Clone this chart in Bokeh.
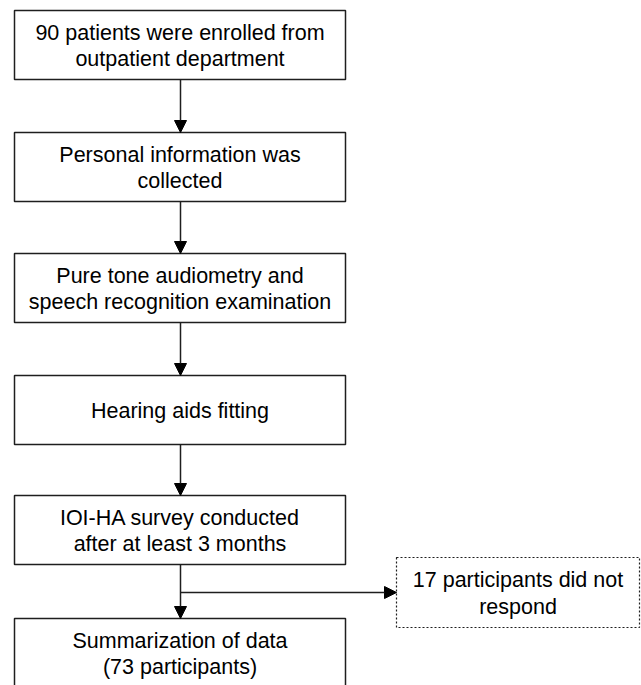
from bokeh.plotting import figure
from bokeh.models import Range1d, Arrow, NormalHead
from bokeh.core.properties import value
from bokeh.embed import file_html
from bokeh.resources import INLINE

# ---- content ----
steps = [
    "90 patients were enrolled from\noutpatient department",
    "Personal information was\ncollected",
    "Pure tone audiometry and\nspeech recognition examination",
    "Hearing aids fitting",
    "IOI-HA survey conducted\nafter at least 3 months",
    "Summarization of data\n(73 participants)",
]
side_note = "17 participants did not\nrespond"

# ---- layout (screen-pixel coordinates, y downward) ----
box_left, box_right = 14, 345
box_tops = [10, 132, 253, 375, 495, 618]
box_h = 69
cx = (box_left + box_right) / 2
arrow_x = 180
side_left, side_right, side_top, side_bottom = 396, 639, 557, 627
branch_y = 592

FONT = value("Liberation Sans")
LINE = "#1e1e1e"

p = figure(width=641, height=685, x_range=Range1d(0, 641), y_range=Range1d(685, 0),
           output_backend="svg", toolbar_location=None, min_border=0)
p.axis.visible = False
p.grid.visible = False
p.outline_line_color = None
p.background_fill_color = "white"

tops = box_tops
bottoms = [t + box_h for t in tops]
p.quad(left=[box_left] * len(tops), right=[box_right] * len(tops), top=tops, bottom=bottoms,
       fill_color=None, line_color=LINE, line_width=1.5)

p.text(x=[cx] * len(steps), y=[t + box_h / 2 + 1 for t in tops], text=steps,
       text_align="center", text_baseline="middle", text_font=FONT,
       text_font_size="21.5px", text_line_height=1.12, text_color="#000000")

def head():
    return NormalHead(size=12, fill_color="black", line_color="black", line_width=1)

# arrows between boxes
for i in range(len(tops) - 1):
    p.add_layout(Arrow(end=head(), x_start=arrow_x, y_start=bottoms[i],
                       x_end=arrow_x, y_end=tops[i + 1], line_color=LINE, line_width=1.5))

# side branch
p.add_layout(Arrow(end=head(), x_start=arrow_x, y_start=branch_y, x_end=side_left, y_end=branch_y,
                   line_color=LINE, line_width=1.5))

p.quad(left=[side_left], right=[side_right], top=[side_top], bottom=[side_bottom],
       fill_color=None, line_color=LINE, line_width=1.2, line_dash="2 2")
p.text(x=[(side_left + side_right) / 2], y=[(side_top + side_bottom) / 2 + 1], text=[side_note],
       text_align="center", text_baseline="middle", text_font=FONT,
       text_font_size="21.5px", text_line_height=1.12, text_color="#000000")

open("out.html", "w").write(file_html(p, INLINE))
